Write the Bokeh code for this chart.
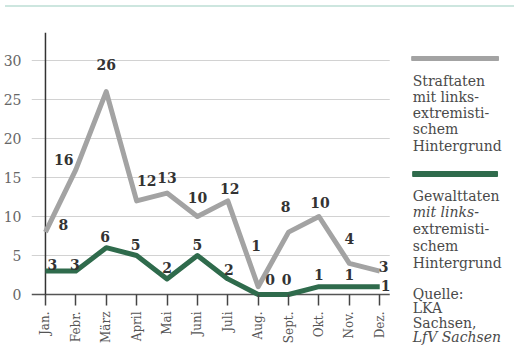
import math
from bokeh.plotting import figure
from bokeh.models import Range1d, FixedTicker, LinearAxis, Div
from bokeh.layouts import column
from bokeh.core.properties import value
from bokeh.embed import file_html
from bokeh.resources import INLINE

# ---- data ----
months = ["Jan.", "Febr.", "März", "April", "Mai", "Juni", "Juli",
          "Aug.", "Sept.", "Okt.", "Nov.", "Dez."]
straftaten = [8, 16, 26, 12, 13, 10, 12, 1, 8, 10, 4, 3]
gewalttaten = [3, 3, 6, 5, 2, 5, 2, 0, 0, 1, 1, 1]
y_ticks = [0, 5, 10, 15, 20, 25, 30]

legend_straf = ["Straftaten", "mit links-", "extremisti-", "schem", "Hintergrund"]
legend_gewalt = ["Gewalttaten", "mit links-", "extremisti-", "schem", "Hintergrund"]
legend_gewalt_style = ["normal", "italic", "normal", "normal", "normal"]
source_lines = ["Quelle:", "LKA", "Sachsen,", "LfV Sachsen"]
source_style = ["normal", "normal", "normal", "italic"]

# label offsets in pixels (layout only)
straf_dx = [18, -12, 0, 10, 0, 0, 2, -2, -3, 1, 0, 4]
straf_dy = [-8, -10, -27, -20, -16, -19, -12, -41, -26, -14, -25, -5]
gewalt_dx = [7, -1, -1, -1, 0, 0, 1, 12, -2, 0, 0, 6]
gewalt_dy = [-7, -7, -11, -11, -11, -11, -9, -15, -15, -12, -12, -1]

GRAY = "#a3a3a3"
GREEN = "#2f6b4c"
TEAL = "#cde6df"
SERIF = "DejaVu Serif"


# layout helpers: page pixel -> data coordinate (Jan at x=52px, 0 at y=292px)
def dx(px):
    return (px - 52) / 30.45


def dy(py):
    return (292 - py) / 7.8


idx = list(range(len(months)))
X_LO, X_HI, GRID_END = dx(38), dx(517), dx(397)
Y_LO, Y_HI = dy(343), dy(30)

p = figure(width=509, height=333, output_backend="svg", toolbar_location=None,
           x_range=Range1d(X_LO, X_HI), y_range=Range1d(Y_LO, Y_HI),
           min_border_left=30, min_border_right=0, min_border_top=20,
           min_border_bottom=0, x_axis_type=None, y_axis_type=None,
           outline_line_color=None)
p.background_fill_color = "white"
p.border_fill_color = "white"

# grid lines, zero line and vertical axis line
gy = y_ticks[1:]
p.segment(x0=[X_LO] * len(gy), y0=gy, x1=[GRID_END] * len(gy), y1=gy,
          line_color="#d2d2d2", line_width=1)
p.segment(x0=[X_LO], y0=[0], x1=[GRID_END], y1=[0],
          line_color="#555555", line_width=1.5)
p.segment(x0=[0], y0=[0], x1=[0], y1=[Y_HI],
          line_color="#333333", line_width=1.5)

yaxis = LinearAxis(ticker=FixedTicker(ticks=y_ticks), axis_line_color=None,
                   major_tick_line_color=None, minor_tick_line_color=None,
                   major_label_standoff=4,
                   major_label_text_font=SERIF,
                   major_label_text_font_size="14px",
                   major_label_text_color="#666666")
p.add_layout(yaxis, "left")

xaxis = LinearAxis(ticker=FixedTicker(ticks=idx), fixed_location=0,
                   major_label_overrides={i: m for i, m in enumerate(months)},
                   axis_line_color=None, major_tick_in=0, major_tick_out=11,
                   major_tick_line_color="#444444", major_tick_line_width=1.5,
                   minor_tick_line_color=None,
                   major_label_orientation=math.pi / 2,
                   major_label_standoff=6,
                   major_label_text_font=SERIF,
                   major_label_text_font_size="12px",
                   major_label_text_color="#555555")
p.add_layout(xaxis, "below")

p.line(idx, straftaten, line_color=GRAY, line_width=5, line_join="round")
p.line(idx, gewalttaten, line_color=GREEN, line_width=5, line_join="round")

p.text(x=idx, y=straftaten, text=[str(v) for v in straftaten],
       x_offset=straf_dx, y_offset=straf_dy,
       text_font=value(SERIF), text_font_style="bold", text_font_size="14px",
       text_color="#333333", text_align="center", text_baseline="middle")
p.text(x=idx, y=gewalttaten, text=[str(v) for v in gewalttaten],
       x_offset=gewalt_dx, y_offset=gewalt_dy,
       text_font=value(SERIF), text_font_style="bold", text_font_size="14px",
       text_color="#333333", text_align="center", text_baseline="middle")

# ---- legend / source block (right side) ----
p.quad(left=[dx(419)], right=[dx(506)], top=[dy(54)], bottom=[dy(58)],
       color=GRAY)
p.quad(left=[dx(420)], right=[dx(505)], top=[dy(169)], bottom=[dy(174)],
       color=GREEN)


def block(lines, py0, step, styles):
    ys = [dy(py0 + i * step) for i in range(len(lines))]
    p.text(x=[dx(420)] * len(lines), y=ys, text=lines,
           text_font=value(SERIF), text_font_style=styles,
           text_font_size="14px", text_color="#4a4a4a",
           text_align="left", text_baseline="alphabetic")


block(legend_straf, 78, 16.25, ["normal"] * len(legend_straf))
block(legend_gewalt, 193, 16.75, legend_gewalt_style)
block(source_lines, 291, 14.5, source_style)

band = Div(width=509, height=2, styles={"background-color": TEAL})

layout = column(band, p)
open("out.html", "w").write(file_html(layout, INLINE))
